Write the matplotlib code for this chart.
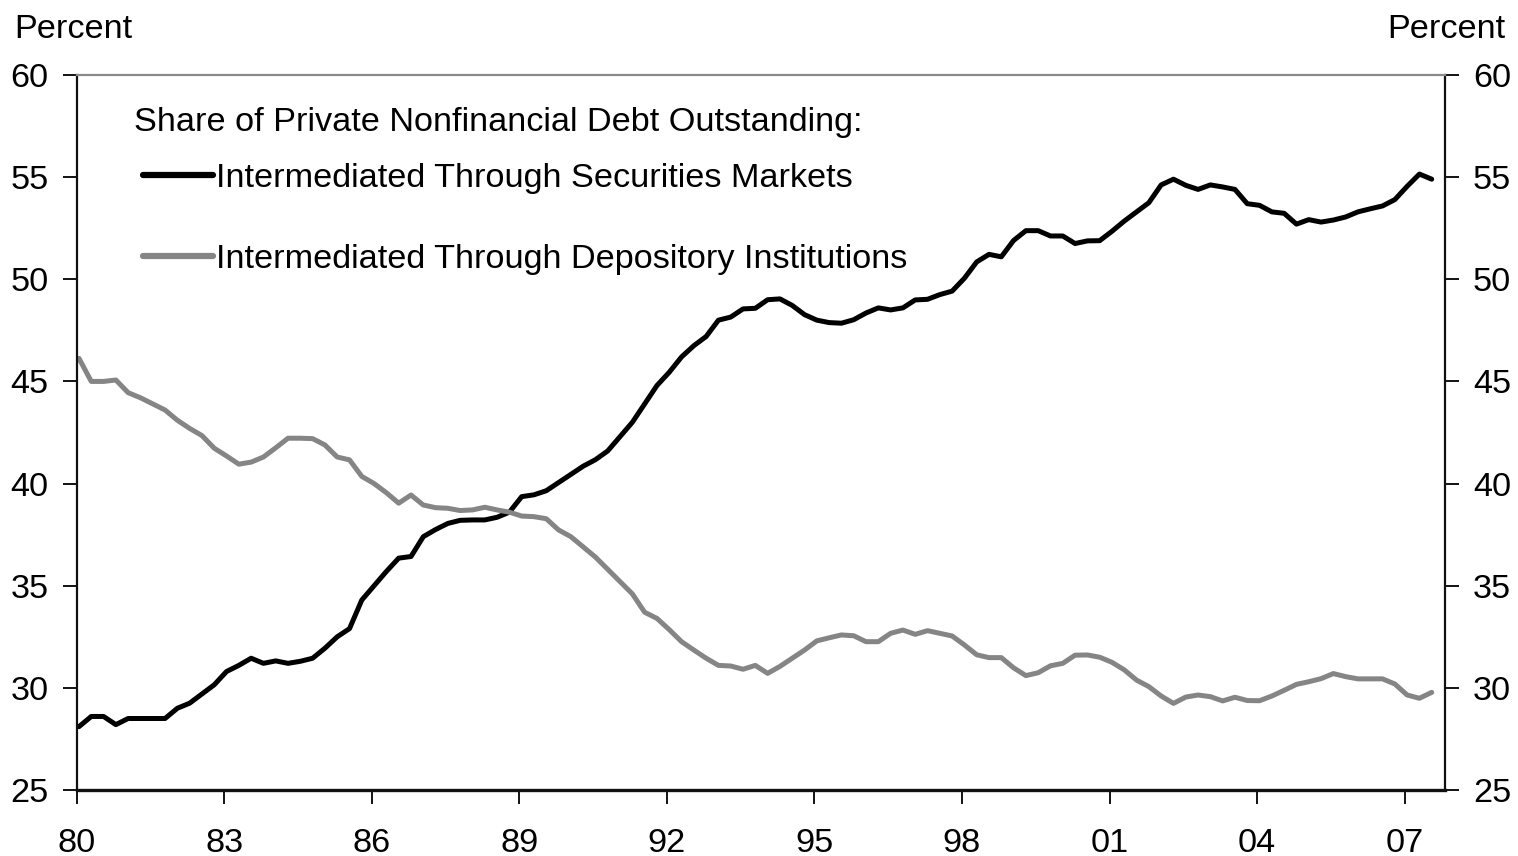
import numpy as np
import matplotlib
matplotlib.use("Agg")
import matplotlib.pyplot as plt

# Quarterly data, 1980Q1 - 2007Q3 (percent)
securities = [
    28.1, 28.6, 28.6, 28.2,      # 1980
    28.5, 28.5, 28.5, 28.5,      # 1981
    29.0, 29.25, 29.7, 30.15,    # 1982
    30.8, 31.1, 31.45, 31.2,     # 1983
    31.32, 31.2, 31.3, 31.45,    # 1984
    31.94, 32.5, 32.9, 34.3,     # 1985
    35.0, 35.7, 36.35, 36.43,    # 1986
    37.4, 37.75, 38.05, 38.2,    # 1987
    38.22, 38.22, 38.35, 38.6,   # 1988
    39.36, 39.45, 39.65, 40.05,  # 1989
    40.45, 40.85, 41.17, 41.6,   # 1990
    42.3, 43.0, 43.9, 44.8,      # 1991
    45.45, 46.2, 46.75, 47.2,    # 1992
    48.0, 48.15, 48.55, 48.58,   # 1993
    49.0, 49.04, 48.72, 48.27,   # 1994
    48.0, 47.88, 47.85, 48.02,   # 1995
    48.35, 48.6, 48.5, 48.6,     # 1996
    48.99, 49.02, 49.25, 49.42,  # 1997
    50.05, 50.85, 51.22, 51.1,   # 1998
    51.9, 52.38, 52.38, 52.12,   # 1999
    52.12, 51.75, 51.88, 51.89,  # 2000
    52.35, 52.85, 53.3, 53.75,   # 2001
    54.62, 54.9, 54.6, 54.4,     # 2002
    54.62, 54.52, 54.4, 53.7,    # 2003
    53.62, 53.3, 53.23, 52.7,    # 2004
    52.92, 52.8, 52.9, 53.05,    # 2005
    53.3, 53.45, 53.59, 53.9,    # 2006
    54.55, 55.15, 54.9,          # 2007
]

depository = [
    46.13, 45.0, 45.0, 45.07,    # 1980
    44.45, 44.2, 43.9, 43.6,     # 1981
    43.1, 42.7, 42.35, 41.73,    # 1982
    41.35, 40.95, 41.05, 41.3,   # 1983
    41.75, 42.22, 42.22, 42.2,   # 1984
    41.89, 41.3, 41.16, 40.35,   # 1985
    40.0, 39.55, 39.04, 39.44,   # 1986
    38.95, 38.82, 38.79, 38.68,  # 1987
    38.71, 38.84, 38.71, 38.6,   # 1988
    38.41, 38.38, 38.28, 37.73,  # 1989
    37.4, 36.9, 36.4, 35.8,      # 1990
    35.2, 34.6, 33.7, 33.4,      # 1991
    32.85, 32.26, 31.85, 31.45,  # 1992
    31.1, 31.07, 30.91, 31.1,    # 1993
    30.71, 31.05, 31.45, 31.85,  # 1994
    32.3, 32.45, 32.59, 32.55,   # 1995
    32.26, 32.26, 32.67, 32.83,  # 1996
    32.62, 32.8, 32.67, 32.54,   # 1997
    32.1, 31.62, 31.48, 31.48,   # 1998
    30.98, 30.6, 30.74, 31.08,   # 1999
    31.2, 31.6, 31.61, 31.5,     # 2000
    31.25, 30.88, 30.38, 30.06,  # 2001
    29.6, 29.24, 29.55, 29.65,   # 2002
    29.57, 29.36, 29.54, 29.38,  # 2003
    29.37, 29.6, 29.88, 30.17,   # 2004
    30.3, 30.45, 30.7, 30.55,    # 2005
    30.44, 30.44, 30.44, 30.19,  # 2006
    29.65, 29.49, 29.78,         # 2007
]

start_year = 1980
tick_years = list(range(1980, 2008, 3))
tick_labels = ["80", "83", "86", "89", "92", "95", "98", "01", "04", "07"]
y_ticks = [25, 30, 35, 40, 45, 50, 55, 60]

legend_title = "Share of Private Nonfinancial Debt Outstanding:"
label_sec = "Intermediated Through Securities Markets"
label_dep = "Intermediated Through Depository Institutions"

plt.rcParams["font.family"] = ["Liberation Sans", "DejaVu Sans"]
FS = 24.7

W, H = 1518, 856
fig = plt.figure(figsize=(W / 100, H / 100), dpi=100)
ax_l, ax_r, ax_t, ax_b = 76.5, 1445, 75, 790
ax = fig.add_axes([ax_l / W, 1 - ax_b / H, (ax_r - ax_l) / W, (ax_b - ax_t) / H])

x = start_year + (np.arange(len(securities)) + 0.2) / 4.0

ax.plot(x, securities, color="#000000", lw=3.6, label=label_sec,
        solid_joinstyle="round", solid_capstyle="round")
ax.plot(x, depository, color="#858585", lw=3.6, label=label_dep,
        solid_joinstyle="round", solid_capstyle="round")

ax.set_xlim(1980, 2007.82)
ax.set_ylim(25, 60)
ax.set_xticks(tick_years)
ax.set_xticklabels(tick_labels)
ax.set_yticks(y_ticks)
ax.tick_params(axis="x", direction="out", length=10, width=1.3, pad=17,
               labelsize=FS, color="#000000")
ax.tick_params(axis="y", direction="out", length=10, width=1.3, pad=10,
               labelsize=FS, left=True, right=True, labelleft=True,
               labelright=True, color="#000000")

for side in ["left", "right"]:
    ax.spines[side].set_linewidth(1.6)
    ax.spines[side].set_color("#111111")
ax.spines["bottom"].set_linewidth(2.4)
ax.spines["bottom"].set_color("#111111")
ax.spines["top"].set_linewidth(1.6)
ax.spines["top"].set_color("#8a8a8a")

axw = ax_r - ax_l
axh = ax_b - ax_t
ax.text((134 - ax_l) / axw, 1 - (122 - ax_t) / axh, legend_title,
        transform=ax.transAxes, ha="left", va="center", fontsize=FS)

leg = ax.legend(loc="upper left",
                bbox_to_anchor=((143 - ax_l) / axw, 1 - (163 - ax_t) / axh),
                frameon=False, fontsize=FS, borderpad=0, borderaxespad=0,
                handlelength=2.04, handletextpad=0.08, labelspacing=1.46)
for line in leg.get_lines():
    line.set_linewidth(4.5)

fig.text(14 / W, 1 - 30 / H, "Percent", ha="left", va="center", fontsize=FS)
fig.text(1505 / W, 1 - 30 / H, "Percent", ha="right", va="center", fontsize=FS)

fig.savefig("out.png", dpi=100)
